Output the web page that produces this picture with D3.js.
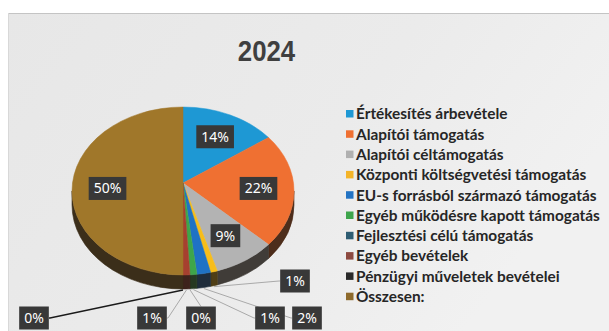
<!DOCTYPE html>
<html>
<head>
<meta charset="utf-8">
<script src="https://cdn.jsdelivr.net/npm/d3@7"></script>
<style>
  html, body { margin: 0; padding: 0; background: #ffffff; overflow: hidden; }
  svg { display: block; }
</style>
</head>
<body>
<svg id="chart" width="609" height="331"></svg>
<script>
// ---- data ----
const chartTitle = "2024";
const categories = [
  "Értékesítés árbevétele",
  "Alapítói támogatás",
  "Alapítói céltámogatás",
  "Központi költségvetési támogatás",
  "EU-s forrásból származó támogatás",
  "Egyéb működésre kapott támogatás",
  "Fejlesztési célú támogatás",
  "Egyéb bevételek",
  "Pénzügyi műveletek bevételei",
  "Összesen:"
];
const shares = [14, 22, 9, 1, 2, 1, 0, 1, 0, 50];

// ---- styles ----
const sliceColors = [
  "#1e98d4", "#ef7032", "#b3b3b3", "#f7bd1a", "#1f72c4",
  "#3ea64a", "#2c5d74", "#a6402f", "#262626", "#a0772a"
];
const legendColors = [
  "#1e98d4", "#ef7032", "#b0b0b0", "#f4b428", "#2373c3",
  "#3ea54c", "#2e5d73", "#8d4a40", "#2a2a2a", "#8e6a2c"
];

const svg = d3.select("#chart");
const W = 609, H = 331;

// ---- background panel ----
const defs = svg.append("defs");
const bg = defs.append("linearGradient").attr("id", "bgGrad")
  .attr("x1", "0").attr("y1", "0").attr("x2", "1").attr("y2", "0.4");
bg.append("stop").attr("offset", "0").attr("stop-color", "#e7e7e7");
bg.append("stop").attr("offset", "0.6").attr("stop-color", "#ebebeb");
bg.append("stop").attr("offset", "1").attr("stop-color", "#f1f1f1");

svg.append("rect").attr("x", 0).attr("y", 0).attr("width", W).attr("height", H).attr("fill", "#ffffff");
svg.append("rect").attr("x", 8).attr("y", 13).attr("width", W - 8).attr("height", H - 13)
  .attr("fill", "url(#bgGrad)");
svg.append("line").attr("x1", 8).attr("x2", W).attr("y1", 13.5).attr("y2", 13.5)
  .attr("stroke", "#c4c4c4").attr("stroke-width", 1);
svg.append("line").attr("x1", 8.5).attr("x2", 8.5).attr("y1", 13).attr("y2", H)
  .attr("stroke", "#d8d8d8").attr("stroke-width", 1);

// ---- title ----
svg.append("text")
  .attr("transform", "translate(266.5,61) scale(0.86,1)")
  .attr("text-anchor", "middle")
  .attr("font-family", "Liberation Sans, Arial, sans-serif")
  .attr("font-weight", "bold")
  .attr("font-size", 30)
  .attr("fill", "#3f3f3f")
  .text(chartTitle);

// ---- 3D pie geometry ----
const pieGeo = { cx: 183, cy: 191, rx: 111, ry: 84, depth: 14, apexX: 183, apexY: 183 };
const rim = (t, dy = 0) => [pieGeo.cx + pieGeo.rx * Math.sin(t), pieGeo.cy - pieGeo.ry * Math.cos(t) + dy];

const pie = d3.pie().sort(null).value(d => d.v).startAngle(0).endAngle(2 * Math.PI);
const rows = categories.map((c, i) => ({ c, v: shares[i], color: sliceColors[i], i }));
const arcs = pie(rows);
const total = d3.sum(shares);
const pct = d3.format(".0%");

const shade = c => d3.interpolateRgb(c, "#1f1a15")(0.78);

// side walls (front half only)
const sideG = svg.append("g");
arcs.forEach(a => {
  const s0 = Math.max(a.startAngle, Math.PI / 2);
  const s1 = Math.min(a.endAngle, 3 * Math.PI / 2);
  if (s1 <= s0) return;
  const p0 = rim(s0), p1 = rim(s1), q1 = rim(s1, pieGeo.depth), q0 = rim(s0, pieGeo.depth);
  const large = (s1 - s0) > Math.PI ? 1 : 0;
  const d = `M${p0}A${pieGeo.rx},${pieGeo.ry} 0 ${large} 1 ${p1}L${q1}A${pieGeo.rx},${pieGeo.ry} 0 ${large} 0 ${q0}Z`;
  sideG.append("path").attr("d", d).attr("fill", shade(a.data.color))
    .attr("stroke", shade(a.data.color)).attr("stroke-width", 0.6);
});

// top faces
const topG = svg.append("g");
arcs.forEach(a => {
  if (a.endAngle - a.startAngle <= 0) return;
  const p0 = rim(a.startAngle), p1 = rim(a.endAngle);
  const large = (a.endAngle - a.startAngle) > Math.PI ? 1 : 0;
  const d = `M${pieGeo.apexX},${pieGeo.apexY}L${p0}A${pieGeo.rx},${pieGeo.ry} 0 ${large} 1 ${p1}Z`;
  topG.append("path").attr("d", d).attr("fill", a.data.color)
    .attr("stroke", a.data.color).attr("stroke-width", 0.5);
});

// ---- data labels ----
const labelFont = "'Noto Sans', 'Open Sans', sans-serif";
const labelG = svg.append("g");

// outside callout anchors for the thin slices (label centre)
const calloutAt = new Map([
  [3, [295, 281]],
  [4, [307, 318]],
  [5, [270, 318]],
  [6, [201, 318]],
  [7, [152, 318]],
  [8, [34, 318]]
]);
const boxH = 23;

function drawBox(cx, cy, txt) {
  const t = labelG.append("text")
    .attr("x", cx).attr("y", cy).attr("dy", "0.36em")
    .attr("text-anchor", "middle")
    .attr("font-family", labelFont).attr("font-size", 14)
    .attr("fill", "#ffffff").text(txt);
  const w = t.node().getComputedTextLength() + 10;
  labelG.insert("rect", "text")
    .attr("x", cx - w / 2).attr("y", cy - boxH / 2)
    .attr("width", w).attr("height", boxH)
    .attr("fill", "#383838");
  return w;
}

// leader lines first, so boxes sit above them
const leaderG = labelG.append("g");
arcs.forEach(a => {
  const pos = calloutAt.get(a.data.i);
  if (!pos) return;
  const mid = (a.startAngle + a.endAngle) / 2;
  const s = rim(mid, pieGeo.depth + 1);
  const [lx, ly] = pos;
  let pts;
  if (ly - boxH / 2 > s[1] + 4 && Math.abs(lx - s[0]) < 25) {
    pts = [s, [lx, ly - boxH / 2]];
  } else if (lx > s[0]) {
    pts = [s, [lx - 16, ly], [lx - 15, ly]];
  } else {
    pts = [s, [lx + 16, ly], [lx + 15, ly]];
  }
  const dark = d3.hsl(a.data.color).l < 0.2;
  leaderG.append("path").attr("d", d3.line()(pts))
    .attr("fill", "none")
    .attr("stroke", dark ? "#1a1a1a" : "#a9a9a9")
    .attr("stroke-width", dark ? 1.3 : 1);
});

arcs.forEach(a => {
  const txt = pct(a.data.v / total);
  const pos = calloutAt.get(a.data.i);
  if (pos) {
    drawBox(pos[0], pos[1], txt);
  } else {
    const mid = (a.startAngle + a.endAngle) / 2;
    const p = rim(mid);
    const f = 0.68;
    const x = pieGeo.apexX + f * (p[0] - pieGeo.apexX);
    const y = pieGeo.apexY + f * (p[1] - pieGeo.apexY);
    drawBox(x, y, txt);
  }
});

// ---- legend ----
const legend = svg.append("g").attr("transform", "translate(346,114)");
const rowStep = 20.3;
const items = legend.selectAll("g").data(categories).join("g")
  .attr("transform", (d, i) => `translate(0,${i * rowStep})`);
items.append("rect").attr("x", 0).attr("y", -4).attr("width", 7.5).attr("height", 7.5)
  .attr("fill", (d, i) => legendColors[i]);
const legendText = items.append("text").attr("x", 10).attr("dy", "0.35em")
  .attr("font-family", "Lato, 'Open Sans', sans-serif")
  .attr("font-weight", "bold")
  .attr("font-size", 14)
  .attr("fill", "#262626")
  .text(d => d);
// fit the longest entry to the legend column width
const longest = d3.max(legendText.nodes(), n => n.getComputedTextLength());
const fitted = 14 * 244 / longest;
legendText.attr("font-size", Math.min(16, fitted));
</script>
</body>
</html>
